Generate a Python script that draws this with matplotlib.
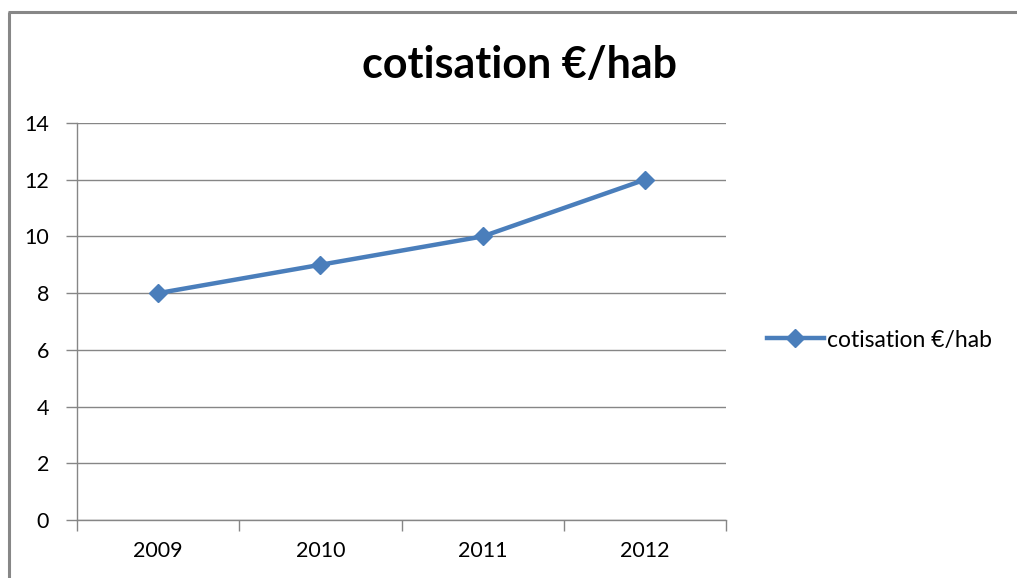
import matplotlib
matplotlib.use("Agg")
import matplotlib.pyplot as plt
from matplotlib.lines import Line2D

years = ["2009", "2010", "2011", "2012"]
values = [8, 9, 10, 12]
series_name = "cotisation €/hab"
title = "cotisation €/hab"
yticks = [0, 2, 4, 6, 8, 10, 12, 14]

plt.rcParams['font.family'] = ['Lato', 'DejaVu Sans']

W, H = 1017, 578
fig = plt.figure(figsize=(W/100, H/100), dpi=100)
fig.patch.set_facecolor('white')

# outer frame (left and top visible)
fig.add_artist(Line2D([9/W, 9/W], [-0.01, 1-12/H], transform=fig.transFigure,
                      color='#878787', lw=2.2, solid_capstyle='butt'))
fig.add_artist(Line2D([8/W, 1.01], [1-12/H, 1-12/H], transform=fig.transFigure,
                      color='#878787', lw=2.2, solid_capstyle='butt'))

ax = fig.add_axes([77/W, 1-520/H, (726-77)/W, (520-123)/H])
x = [i + 0.5 for i in range(len(years))]
color = '#4A7EBB'
ax.plot(x, values, color=color, lw=3.2, marker='D', markersize=9, label=series_name)
ax.set_xlim(0, len(years))
ax.set_ylim(0, 14)
ax.set_yticks(yticks)
ax.set_yticklabels([str(v) for v in yticks], fontsize=15.5)
ax.set_xticks(range(len(years)+1))
ax.set_xticklabels([])
ax.set_xticks(x, minor=True)
ax.set_xticklabels(years, minor=True, fontsize=15.5)
ax.tick_params(axis='x', which='minor', length=0, pad=15)
ax.tick_params(axis='x', which='major', length=8, color='#868686', width=1)
ax.tick_params(axis='y', length=8, color='#868686', width=1, pad=12)
ax.grid(axis='y', color='#868686', lw=1)
ax.set_axisbelow(True)
for s in ['top', 'right']:
    ax.spines[s].set_visible(False)
for s in ['left', 'bottom']:
    ax.spines[s].set_color('#868686')
    ax.spines[s].set_linewidth(1)

fig.text(520/W, 1-65/H, title, ha='center', va='center', fontsize=31, fontweight='bold')

leg = fig.legend(loc='center left', bbox_to_anchor=(746/W, 1-340/H), frameon=False,
                 fontsize=16.5, handlelength=2.5, handletextpad=0.15)

fig.savefig('out.png', dpi=100, facecolor='white')
